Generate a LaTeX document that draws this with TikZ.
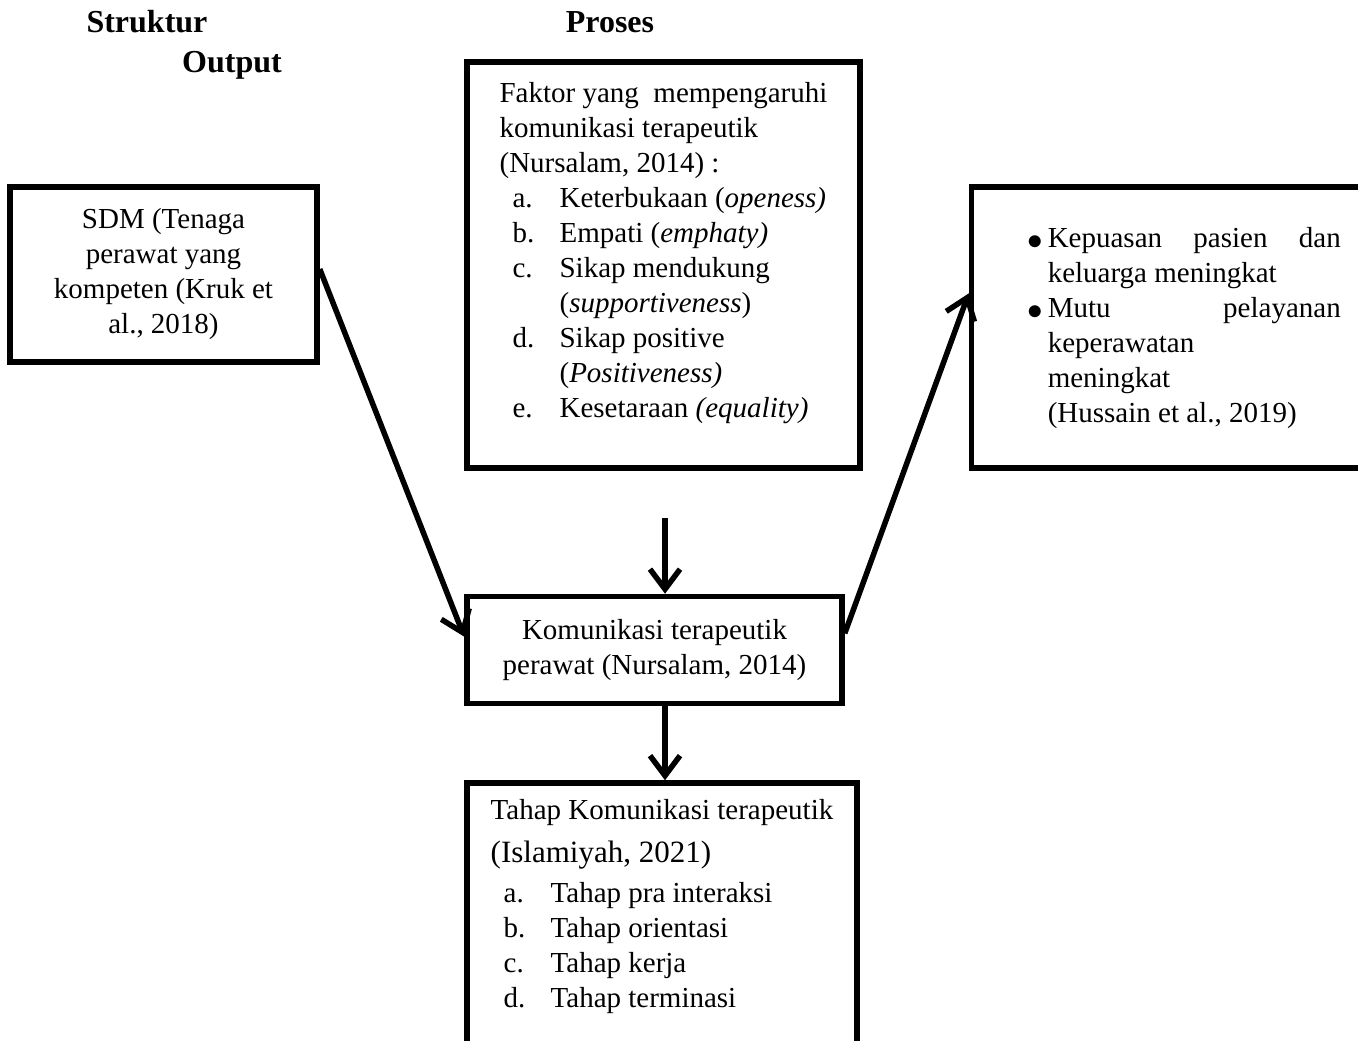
\documentclass[tikz,border=0pt]{standalone}
\usepackage{fontspec}
\usepackage{graphicx}
\setmainfont{Liberation Serif}
\usetikzlibrary{arrows.meta}

\tikzset{
  kotak/.style={draw, line width=5.5pt, inner sep=0pt},
  panah/.style={line width=5.5pt, -{Straight Barb[length=20pt,width=30pt]}},
  judul/.style={font=\fontsize{32}{38}\selectfont\bfseries},
}
\newcommand{\isi}{\fontsize{29}{35}\selectfont}
\newcommand{\butir}[1]{\hspace{13pt}\makebox[47pt][l]{#1}}
\newcommand{\lanjut}{\hspace{60pt}}
\newcommand{\titik}{\raisebox{-2pt}{\scalebox{1.25}{$\bullet$}}}

\begin{document}
\begin{tikzpicture}[x=1pt,y=-1pt]
\useasboundingbox (0,0) rectangle (1358,1041);
\clip (0,0) rectangle (1358,1041);

\node[judul] (struktur) at (147,22) {Struktur};
\node[judul] (proses) at (610,22) {Proses};
\node[judul] (output) at (232,65) {Output};

\node[kotak, minimum width=307pt, minimum height=175pt, align=center, font=\isi] (sdm) at (163.5,274.5)
  {SDM (Tenaga\\perawat yang\\kompeten (Kruk et\\al., 2018)};

\node[kotak, minimum width=393pt, minimum height=406pt, font=\isi] (faktor) at (663.5,265)
  {\begin{tabular}{@{}l@{}}
  Faktor yang \ mempengaruhi\\
  komunikasi terapeutik\\
  (Nursalam, 2014) :\\
  \butir{a.}Keterbukaan (\textit{openess)}\\
  \butir{b.}Empati (\textit{emphaty)}\\
  \butir{c.}Sikap mendukung\\
  \lanjut(\textit{supportiveness})\\
  \butir{d.}Sikap positive\\
  \lanjut(\textit{Positiveness)}\\
  \butir{e.}Kesetaraan \textit{(equality)}\\[25pt]
  \end{tabular}};

\node[kotak, minimum width=425pt, minimum height=281pt, font=\isi] (hasil) at (1184,327.5)
  {\begin{tabular}{@{}l@{\hspace{5pt}}l@{}}
  \titik & \makebox[293pt][s]{Kepuasan pasien dan}\\
   & keluarga meningkat\\
  \titik & \makebox[293pt][s]{Mutu pelayanan}\\
   & keperawatan\\
   & meningkat\\
   & (Hussain et al., 2019)
  \end{tabular}};

\node[kotak, minimum width=375pt, minimum height=107pt, align=center, font=\isi] (kom) at (654.5,650)
  {Komunikasi terapeutik\\perawat (Nursalam, 2014)};

\node[kotak, minimum width=390pt, minimum height=287pt, font=\isi] (tahap) at (662,926.5)
  {\begin{tabular}{@{}l@{}}
  Tahap Komunikasi terapeutik\\[8pt]
  {\fontsize{31}{35}\selectfont (Islamiyah, 2021)}\\[5pt]
  \butir{a.}Tahap pra interaksi\\
  \butir{b.}Tahap orientasi\\
  \butir{c.}Tahap kerja\\
  \butir{d.}Tahap terminasi\\[40pt]
  \end{tabular}};

\coordinate (atas) at (665,518);
\draw[panah] (sdm.2) -- (kom.176);
\draw[panah] (atas) -- (atas |- kom.north);
\draw[panah] (kom.5) -- (hasil.171);
\draw[panah] (kom.south -| atas) -- (tahap.north -| atas);
\end{tikzpicture}
\end{document}
